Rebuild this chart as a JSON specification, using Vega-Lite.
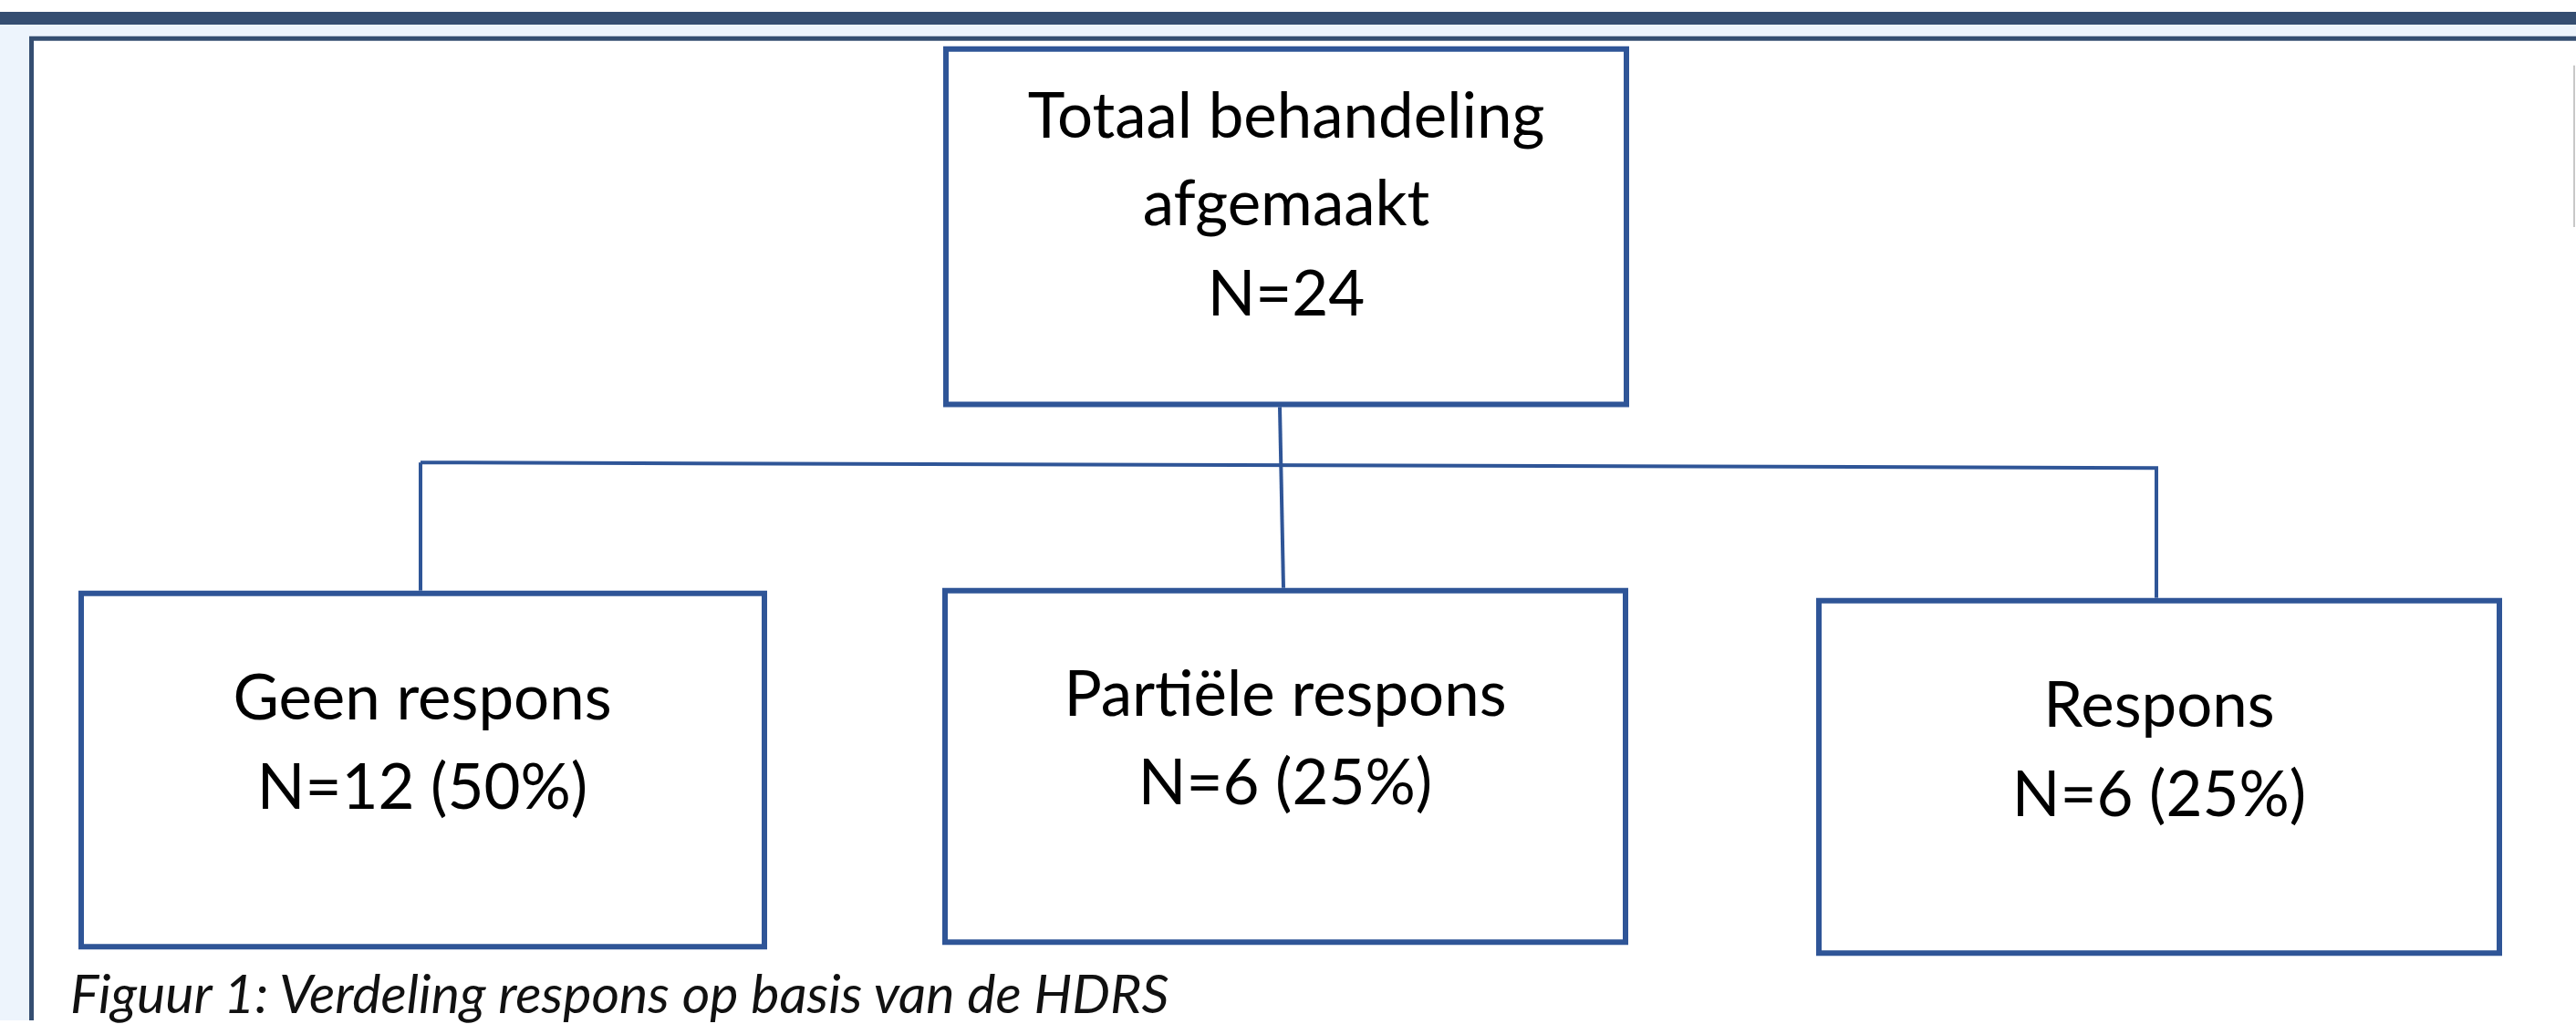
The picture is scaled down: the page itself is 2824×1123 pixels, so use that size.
{
  "$schema": "https://vega.github.io/schema/vega-lite/v6.json",
  "width": 2824,
  "height": 1123,
  "padding": 0,
  "autosize": {"type": "fit", "contains": "padding"},
  "background": "white",
  "config": {"view": {"stroke": null}},
  "datasets": {
    "panels": [
      {"part": "lightblue", "x": 0, "x2": 2824, "y": 27, "y2": 1123},
      {"part": "band", "x": 0, "x2": 2824, "y": 13, "y2": 27},
      {"part": "frameDark", "x": 32, "x2": 2824, "y": 40, "y2": 1123},
      {"part": "frameWhite", "x": 37, "x2": 2824, "y": 45, "y2": 1123}
    ],
    "boxes": [
      {"node": "Totaal", "x": 1037, "x2": 1783, "y": 54, "y2": 445},
      {"node": "Geen respons", "x": 89, "x2": 838, "y": 653, "y2": 1042},
      {"node": "Partiële respons", "x": 1036, "x2": 1782, "y": 650, "y2": 1037},
      {"node": "Respons", "x": 1994, "x2": 2740, "y": 661, "y2": 1049}
    ],
    "links": [
      {"seg": "stem", "x": 1403, "x2": 1407, "y": 448, "y2": 647},
      {"seg": "bar", "x": 461, "x2": 2366, "y": 509, "y2": 515},
      {"seg": "left", "x": 461, "x2": 461, "y": 509, "y2": 650},
      {"seg": "right", "x": 2364, "x2": 2364, "y": 515, "y2": 658}
    ],
    "edge": [
      {"x": 2822, "x2": 2822, "y": 72, "y2": 250}
    ],
    "labels": [
      {"text": "Totaal behandeling", "x": 1410, "y": 152},
      {"text": "afgemaakt", "x": 1410, "y": 248},
      {"text": "N=24", "x": 1410, "y": 347},
      {"text": "Geen respons", "x": 463, "y": 792},
      {"text": "N=12 (50%)", "x": 463, "y": 890},
      {"text": "Partiële respons", "x": 1409, "y": 788},
      {"text": "N=6 (25%)", "x": 1409, "y": 885},
      {"text": "Respons", "x": 2367, "y": 800},
      {"text": "N=6 (25%)", "x": 2367, "y": 898}
    ],
    "caption": [
      {"text": "Figuur 1: Verdeling respons op basis van de HDRS", "x": 77, "y": 1115}
    ]
  },
  "encoding": {
    "x": {"field": "x", "type": "quantitative", "scale": {"domain": [0, 2824], "nice": false, "zero": false}, "axis": null},
    "y": {"field": "y", "type": "quantitative", "scale": {"domain": [0, 1123], "nice": false, "zero": false, "reverse": true}, "axis": null}
  },
  "layer": [
    {
      "data": {"name": "panels"},
      "transform": [{"filter": "datum.part == 'lightblue'"}],
      "mark": {"type": "rect", "color": "#edf4fc"},
      "encoding": {"x2": {"field": "x2"}, "y2": {"field": "y2"}}
    },
    {
      "data": {"name": "panels"},
      "transform": [{"filter": "datum.part == 'band'"}],
      "mark": {"type": "rect", "color": "#354e71"},
      "encoding": {"x2": {"field": "x2"}, "y2": {"field": "y2"}}
    },
    {
      "data": {"name": "panels"},
      "transform": [{"filter": "datum.part == 'frameDark'"}],
      "mark": {"type": "rect", "color": "#354e71"},
      "encoding": {"x2": {"field": "x2"}, "y2": {"field": "y2"}}
    },
    {
      "data": {"name": "panels"},
      "transform": [{"filter": "datum.part == 'frameWhite'"}],
      "mark": {"type": "rect", "color": "#ffffff"},
      "encoding": {"x2": {"field": "x2"}, "y2": {"field": "y2"}}
    },
    {
      "data": {"name": "edge"},
      "mark": {"type": "rule", "color": "#c8c8c8", "strokeWidth": 2},
      "encoding": {"x2": {"field": "x2"}, "y2": {"field": "y2"}}
    },
    {
      "data": {"name": "links"},
      "mark": {"type": "rule", "color": "#2f5597", "strokeWidth": 4},
      "encoding": {"x2": {"field": "x2"}, "y2": {"field": "y2"}}
    },
    {
      "data": {"name": "boxes"},
      "mark": {"type": "rect", "fill": "#ffffff", "stroke": "#2f5597", "strokeWidth": 6},
      "encoding": {"x2": {"field": "x2"}, "y2": {"field": "y2"}}
    },
    {
      "data": {"name": "labels"},
      "mark": {"type": "text", "font": "Lato", "fontSize": 69, "color": "#000000", "align": "center", "baseline": "alphabetic"},
      "encoding": {"text": {"field": "text"}}
    },
    {
      "data": {"name": "caption"},
      "mark": {"type": "text", "font": "Lato", "fontSize": 59, "fontStyle": "italic", "color": "#111111", "align": "left", "baseline": "alphabetic"},
      "encoding": {"text": {"field": "text"}}
    }
  ]
}
